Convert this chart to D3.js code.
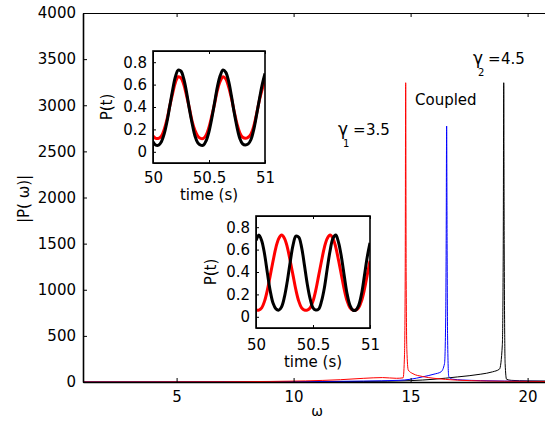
<!DOCTYPE html>
<html>
<head>
<meta charset="utf-8">
<title>Spectrum with insets</title>
<script src="https://cdn.jsdelivr.net/npm/d3@7"></script>
<style>
  body { margin: 0; background: #fff; }
  svg { display: block; }
  text { font-family: "DejaVu Sans", sans-serif; fill: #000; }
  .axis text { font-size: 15px; }
  .axis line, .axis path { stroke: #000; }
</style>
</head>
<body>
<script>
// ---- main spectrum |P(w)| ----
const redW   = [1, 4, 7, 9, 10.5, 12, 13, 13.8, 14.4, 14.68, 14.74, 14.77, 14.79, 14.81, 14.84, 14.9, 15.1, 15.5, 16, 16.5, 17.5, 19, 21];
const redP   = [0, 1, 3, 6, 12, 25, 40, 48, 40, 45, 300, 1200, 3244, 1200, 350, 130, 90, 60, 40, 28, 15, 8, 5];
const blueW  = [1, 5, 9, 11, 13, 14.5, 15, 15.5, 16, 16.3, 16.45, 16.5, 16.52, 16.54, 16.56, 16.58, 16.63, 16.8, 17.2, 18, 19, 21];
const blueP  = [0, 1, 3, 5, 10, 18, 30, 55, 85, 110, 200, 700, 1500, 2775, 1500, 500, 60, 30, 22, 15, 10, 6];
const blackW = [1, 5, 10, 13, 15, 16, 17, 18, 18.5, 18.8, 18.92, 18.96, 18.98, 19.0, 19.04, 19.1, 19.3, 20, 21];
const blackP = [0, 1, 3, 6, 15, 30, 55, 85, 110, 140, 400, 1500, 3244, 1500, 200, 30, 18, 12, 10];

const mainXTicks = [5, 10, 15, 20];
const mainYTicks = [0, 500, 1000, 1500, 2000, 2500, 3000, 3500, 4000];

// ---- insets P(t), sampled every 0.025 s from 50 to 51 ----
const tVals = d3.range(41).map(function(i){ return +(50 + i * 0.025).toFixed(3); });
const inset1Red   = [0.14,0.12,0.12,0.14,0.20,0.29,0.41,0.52,0.62,0.67,0.66,0.60,0.50,0.39,0.27,0.19,0.14,0.12,0.12,0.15,0.22,0.32,0.43,0.55,0.63,0.67,0.65,0.58,0.48,0.36,0.25,0.17,0.13,0.12,0.13,0.16,0.23,0.34,0.46,0.56,0.64];
const inset1Black = [0.09,0.06,0.06,0.09,0.16,0.27,0.41,0.55,0.67,0.73,0.72,0.65,0.53,0.38,0.25,0.14,0.08,0.06,0.06,0.10,0.18,0.30,0.44,0.58,0.68,0.73,0.71,0.63,0.50,0.35,0.22,0.12,0.07,0.06,0.07,0.11,0.20,0.33,0.47,0.60,0.70];
const inset2Red   = [0.06,0.06,0.08,0.14,0.24,0.37,0.50,0.62,0.70,0.73,0.70,0.62,0.50,0.37,0.24,0.14,0.08,0.06,0.06,0.08,0.14,0.24,0.37,0.50,0.62,0.70,0.73,0.70,0.62,0.50,0.37,0.24,0.14,0.08,0.06,0.06,0.08,0.14,0.24,0.37,0.50];
const inset2Black = [0.68,0.73,0.68,0.56,0.39,0.23,0.12,0.07,0.06,0.09,0.18,0.32,0.49,0.64,0.72,0.71,0.62,0.46,0.29,0.16,0.08,0.06,0.07,0.14,0.26,0.43,0.59,0.70,0.73,0.66,0.53,0.36,0.20,0.10,0.06,0.06,0.10,0.20,0.36,0.53,0.66];

const insetXTicks = [50, 50.5, 51];
const insetYTicks = [0, 0.2, 0.4, 0.6, 0.8];

const width = 545, height = 423;

const svg = d3.select("body").append("svg")
  .attr("width", width)
  .attr("height", height);

// main scales
const x = d3.scaleLinear().domain([1, 21]).range([83, 551]);
const y = d3.scaleLinear().domain([0, 4000]).range([382, 13]);

function pairs(xs, ys){
  return xs.map(function(v, i){ return [v, ys[i]]; });
}

// top frame
svg.append("g")
  .attr("class", "axis")
  .attr("transform", "translate(0,13)")
  .call(d3.axisTop(x).tickValues(mainXTicks).tickSizeInner(-4).tickSizeOuter(0).tickFormat(""))
  .select(".domain").attr("stroke-width", 1);

const mainLine = d3.line()
  .x(function(d){ return x(d[0]); })
  .y(function(d){ return y(d[1]); })
  .curve(d3.curveMonotoneX);

const mainSeries = [
  { pts: pairs(blackW, blackP), color: "#000000" },
  { pts: pairs(blueW, blueP), color: "#0000ff" },
  { pts: pairs(redW, redP), color: "#ff0000" }
];

svg.selectAll("path.spec")
  .data(mainSeries)
  .enter()
  .append("path")
  .attr("class", "spec")
  .attr("d", function(d){ return mainLine(d.pts); })
  .attr("fill", "none")
  .attr("stroke", function(d){ return d.color; })
  .attr("stroke-width", 1);

// main axes
const xAxis = svg.append("g")
  .attr("class", "axis")
  .attr("transform", "translate(0,382)")
  .call(d3.axisBottom(x).tickValues(mainXTicks).tickSizeInner(-4).tickSizeOuter(0).tickPadding(9));
xAxis.select(".domain").attr("stroke-width", 1.6);

const yAxis = svg.append("g")
  .attr("class", "axis")
  .attr("transform", "translate(83,0)")
  .call(d3.axisLeft(y).tickValues(mainYTicks).tickSizeInner(-4).tickSizeOuter(0).tickPadding(7)
    .tickFormat(d3.format("d")));
yAxis.select(".domain").attr("stroke-width", 1.6);

svg.append("text")
  .attr("x", 317).attr("y", 416)
  .attr("text-anchor", "middle")
  .attr("font-size", 14)
  .text("ω");

svg.append("text")
  .attr("transform", "translate(29,199) rotate(-90)")
  .attr("text-anchor", "middle")
  .attr("font-size", 15)
  .text("|P( ω)|");

// annotations
function gammaLabel(gx, gy, sub, val){
  svg.append("text").attr("x", gx).attr("y", gy)
    .attr("font-family", "Liberation Serif, serif").attr("font-size", 17)
    .text("γ");
  svg.append("text").attr("x", gx + 5).attr("y", gy + 12)
    .attr("font-size", 10)
    .text(sub);
  svg.append("text").attr("x", gx + 15).attr("y", gy)
    .attr("font-size", 15)
    .text("=");
  svg.append("text").attr("x", gx + 28).attr("y", gy)
    .attr("font-size", 15)
    .text(val);
}
gammaLabel(338, 135, "1", "3.5");
gammaLabel(473, 64, "2", "4.5");

svg.append("text")
  .attr("x", 415).attr("y", 105)
  .attr("font-size", 15)
  .text("Coupled");

// insets
function drawInset(left, top, w, h, redVals, blackVals, labPad, yLabX){
  const ix = d3.scaleLinear().domain([50, 51]).range([left, left + w]);
  const iy = d3.scaleLinear().domain([-0.1, 0.9]).range([top + h, top]);

  const g = svg.append("g");
  g.append("rect")
    .attr("x", left).attr("y", top).attr("width", w).attr("height", h)
    .attr("fill", "#fff");

  const clipId = "clip" + left;
  g.append("clipPath").attr("id", clipId)
    .append("rect").attr("x", left).attr("y", top).attr("width", w).attr("height", h);

  const ln = d3.line()
    .x(function(d){ return ix(d[0]); })
    .y(function(d){ return iy(d[1]); })
    .curve(d3.curveCatmullRom);

  g.selectAll("path.ts")
    .data([{ v: redVals, c: "#ff0000" }, { v: blackVals, c: "#000000" }])
    .enter()
    .append("path")
    .attr("class", "ts")
    .attr("clip-path", "url(#" + clipId + ")")
    .attr("d", function(d){ return ln(pairs(tVals, d.v)); })
    .attr("fill", "none")
    .attr("stroke", function(d){ return d.c; })
    .attr("stroke-width", 3);

  g.append("g").attr("class", "axis")
    .attr("transform", "translate(0," + (top + h) + ")")
    .call(d3.axisBottom(ix).tickValues(insetXTicks).tickSizeInner(-3).tickSizeOuter(0).tickPadding(labPad)
      .tickFormat(function(d){ return String(d); }));
  g.append("g").attr("class", "axis")
    .attr("transform", "translate(" + left + ",0)")
    .call(d3.axisLeft(iy).tickValues(insetYTicks).tickSizeInner(-3).tickSizeOuter(0).tickPadding(6)
      .tickFormat(function(d){ return d === 0 ? "0" : d3.format(".1f")(d); }));
  g.append("g").attr("class", "axis")
    .attr("transform", "translate(0," + top + ")")
    .call(d3.axisTop(ix).tickValues(insetXTicks).tickSizeInner(-3).tickSizeOuter(0).tickFormat(""));

  g.append("rect")
    .attr("x", left).attr("y", top).attr("width", w).attr("height", h)
    .attr("fill", "none").attr("stroke", "#000").attr("stroke-width", 1.6);

  g.append("text")
    .attr("x", left + w / 2).attr("y", top + h + labPad + 28)
    .attr("text-anchor", "middle").attr("font-size", 15)
    .text("time (s)");

  g.append("text")
    .attr("transform", "translate(" + yLabX + "," + (top + h / 2) + ") rotate(-90)")
    .attr("text-anchor", "middle").attr("font-size", 15)
    .text("P(t)");
}

drawInset(153, 51, 112, 112, inset1Red, inset1Black, 9, 112);
drawInset(256, 216, 114, 112, inset2Red, inset2Black, 11, 216);
</script>
</body>
</html>
